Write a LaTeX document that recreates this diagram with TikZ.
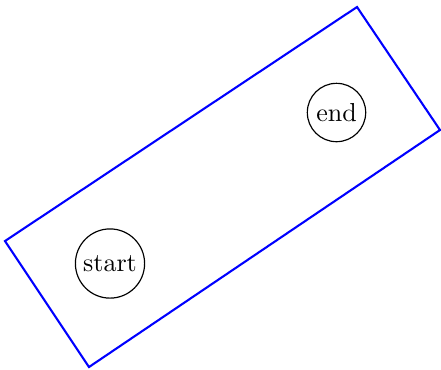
\documentclass[tikz,border=0pt]{standalone}
\begin{document}
\begin{tikzpicture}[x=0.3846pt,y=-0.3846pt,
  state/.style={draw,circle,inner sep=2pt,line width=0.45pt},
  frame/.style={draw=blue,thick,line join=miter}]
\useasboundingbox (0,0) rectangle (441,369);
\coordinate (cl) at (5,241);
\coordinate (cb) at (89,367);
\coordinate (cr) at (440,130);
\coordinate (ct) at (357,7);
\draw[frame] (cl) -- (cb) -- (cr) -- (ct) -- cycle;
\node[state] (start) at (110,263.5) {start};
\node[state] (end) at (336.5,112.5) {end};
\end{tikzpicture}
\end{document}
